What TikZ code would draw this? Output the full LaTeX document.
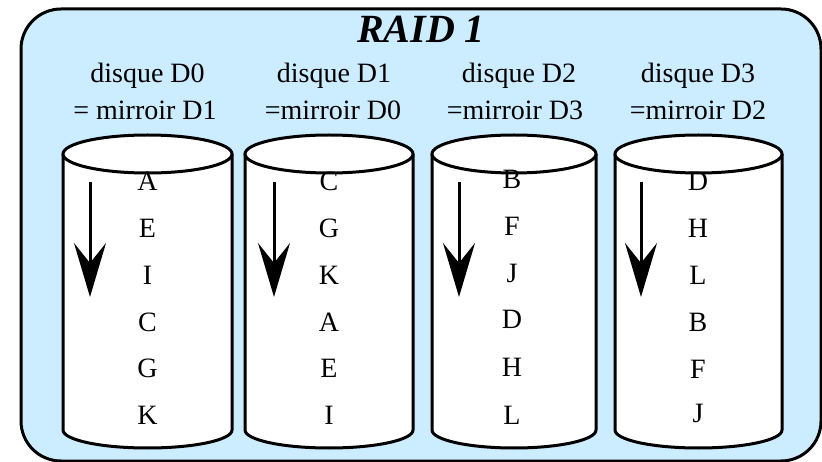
\documentclass[tikz,border=0pt]{standalone}
\usepackage{fontspec}
\setmainfont{Liberation Serif}
\usetikzlibrary{arrows.meta}
\definecolor{raidbg}{RGB}{204,236,255}

\begin{document}
\begin{tikzpicture}[x=1pt,y=-1pt,
                disk/.style={line width=3pt},
                flow/.style={line width=3pt,-{Stealth[length=54pt,width=32pt,inset=20pt]}},
                lettre/.style={anchor=base,font=\fontsize{28}{34}\selectfont},
                legende/.style={anchor=base,font=\fontsize{28}{34}\selectfont}]
                \useasboundingbox (0,0) rectangle (822,462);
                \filldraw[fill=raidbg,line width=3pt,rounded corners=40pt] (21,9) rectangle (821,461);
                \node[anchor=base,font=\fontsize{40}{48}\selectfont\bfseries\itshape] (titre) at (421,43) {RAID 1};
                % disque D0
                \node[legende] (t0a) at (147.5,83) {disque D0};
                \node[legende] (t0b) at (145,120) {= mirroir D1};
                \fill[white] (63,154)--(63,430) arc(180:0:84.5 and 18)--(232,154)--cycle;
                \draw[disk] (63,154)--(63,430) arc(180:0:84.5 and 18)--(232,154);
                \filldraw[disk,fill=white] (147.5,154) ellipse (84.5 and 19);
                \node[lettre] (d0r1) at (147.5,191) {A};
                \node[lettre] (d0r2) at (147.5,238) {E};
                \node[lettre] (d0r3) at (147.5,285) {I};
                \node[lettre] (d0r4) at (147.5,331) {C};
                \node[lettre] (d0r5) at (147.5,377) {G};
                \node[lettre] (d0r6) at (147.5,424) {K};
                \coordinate (f0h) at (90,182);
                \coordinate (f0b) at (90,297);
                \draw[flow] (f0h)--(f0b);
                % disque D1
                \node[legende] (t1a) at (334,83) {disque D1};
                \node[legende] (t1b) at (333,120) {=mirroir D0};
                \fill[white] (245,154)--(245,430) arc(180:0:84 and 18)--(413,154)--cycle;
                \draw[disk] (245,154)--(245,430) arc(180:0:84 and 18)--(413,154);
                \filldraw[disk,fill=white] (329,154) ellipse (84 and 19);
                \node[lettre] (d1r1) at (329,191) {C};
                \node[lettre] (d1r2) at (329,238) {G};
                \node[lettre] (d1r3) at (329,285) {K};
                \node[lettre] (d1r4) at (329,331) {A};
                \node[lettre] (d1r5) at (329,377) {E};
                \node[lettre] (d1r6) at (329,424) {I};
                \coordinate (f1h) at (274,182);
                \coordinate (f1b) at (274,297);
                \draw[flow] (f1h)--(f1b);
                % disque D2
                \node[legende] (t2a) at (519,83) {disque D2};
                \node[legende] (t2b) at (515,120) {=mirroir D3};
                \fill[white] (432,154)--(432,430) arc(180:0:82 and 18)--(596,154)--cycle;
                \draw[disk] (432,154)--(432,430) arc(180:0:82 and 18)--(596,154);
                \filldraw[disk,fill=white] (514,154) ellipse (82 and 19);
                \node[lettre] (d2r1) at (512,189) {B};
                \node[lettre] (d2r2) at (512,236) {F};
                \node[lettre] (d2r3) at (512,283) {J};
                \node[lettre] (d2r4) at (512,329) {D};
                \node[lettre] (d2r5) at (512,376) {H};
                \node[lettre] (d2r6) at (512,424) {L};
                \coordinate (f2h) at (459,182);
                \coordinate (f2b) at (459,297);
                \draw[flow] (f2h)--(f2b);
                % disque D3
                \node[legende] (t3a) at (698,83) {disque D3};
                \node[legende] (t3b) at (698,120) {=mirroir D2};
                \fill[white] (615,154)--(615,430) arc(180:0:83.5 and 18)--(782,154)--cycle;
                \draw[disk] (615,154)--(615,430) arc(180:0:83.5 and 18)--(782,154);
                \filldraw[disk,fill=white] (698.5,154) ellipse (83.5 and 19);
                \node[lettre] (d3r1) at (698,191) {D};
                \node[lettre] (d3r2) at (698,238) {H};
                \node[lettre] (d3r3) at (698,285) {L};
                \node[lettre] (d3r4) at (698,331) {B};
                \node[lettre] (d3r5) at (698,378) {F};
                \node[lettre] (d3r6) at (698,422) {J};
                \coordinate (f3h) at (641,182);
                \coordinate (f3b) at (641,297);
                \draw[flow] (f3h)--(f3b);
\end{tikzpicture}
\end{document}
